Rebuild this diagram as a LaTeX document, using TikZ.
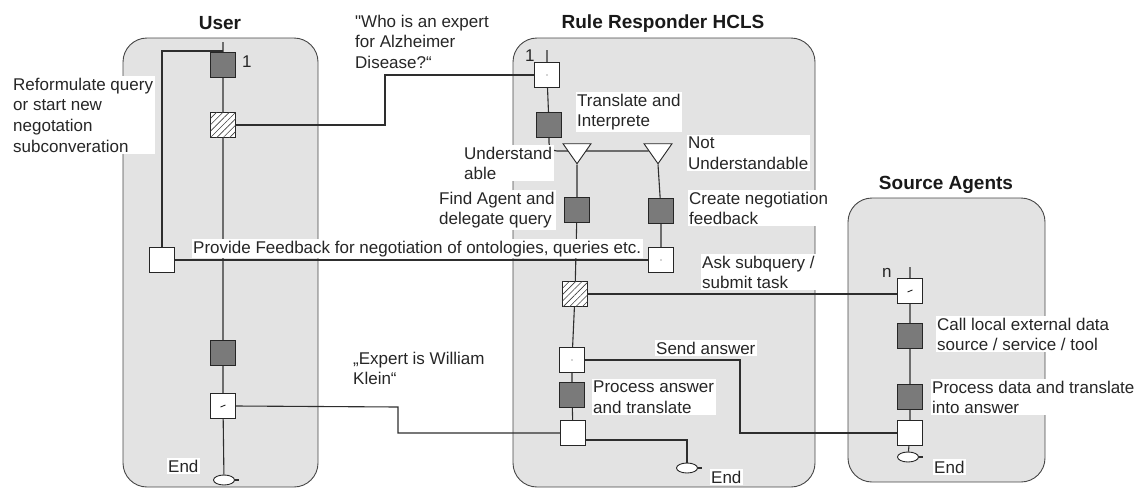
\documentclass[tikz,border=0pt]{standalone}
\usepackage{fontspec}
\setmainfont{Liberation Sans}
\usetikzlibrary{shapes.geometric,patterns.meta}

\pgfdeclarelayer{lanes}
\pgfdeclarelayer{wires}
\pgfsetlayers{lanes,wires,main}

\newcommand{\straightquote}{\XeTeXglyph\XeTeXcharglyph"22\relax}

\tikzset{
  lane/.style={draw=black!72, fill=black!11, rounded corners=24pt, line width=0.9pt},
  title/.style={font=\fontsize{19}{22}\selectfont\bfseries, text=black!90, anchor=base},
  txt/.style={font=\fontsize{17}{20.7}\selectfont, text=black!85, align=left,
    anchor=north west, fill=white, inner sep=1.5pt},
  num/.style={font=\fontsize{17}{20.7}\selectfont, text=black!85, anchor=base west, inner sep=0pt},
  task/.style={draw=black!85, fill=black!52, minimum size=25pt, inner sep=0pt, line width=0.9pt},
  event/.style={draw=black!85, fill=white, minimum size=25pt, inner sep=0pt, line width=0.9pt},
  msg/.style={event, postaction={pattern={Lines[angle=45,distance=4.5pt,line width=0.6pt]},
    pattern color=black!75}},
  dotmark/.style={path picture={\fill[black!70] (path picture bounding box.center) circle (0.6pt);}},
  tick/.style={path picture={\draw[black!85, line width=0.9pt]
    ([xshift=-2.5pt,yshift=-1pt]path picture bounding box.center) --
    ([xshift=2.5pt,yshift=1pt]path picture bounding box.center);}},
  gate/.style={isosceles triangle, isosceles triangle apex angle=70, shape border rotate=-90,
    isosceles triangle stretches, minimum width=28pt, minimum height=20pt,
    draw=black!85, fill=white, inner sep=0pt, line width=0.9pt},
  endev/.style={ellipse, draw=black!85, fill=white, minimum width=21pt, minimum height=10pt,
    inner sep=0pt, line width=0.9pt},
  wire/.style={draw=black!82, line width=1.1pt}
}

\begin{document}
\begin{tikzpicture}[x=1pt,y=-1pt]
\useasboundingbox (0,0) rectangle (1135,488);

% lanes
\begin{pgfonlayer}{lanes}
\draw[lane] (123,38) rectangle (318,487);
\draw[lane] (513,38) rectangle (815,487);
\draw[lane] (848,198) rectangle (1045,482);
\end{pgfonlayer}

\node[title] (tUser) at (220,29) {User};
\node[title] (tRule) at (663,28) {Rule Responder HCLS};
\node[title] (tSrc) at (946,189) {Source Agents};

% user
\coordinate (uTop) at (223,42);
\coordinate (uJoin) at (223,51);
\node[task] (u1) at (223,65) {};
\node[msg] (uAsk) at (223,125) {};
\node[event] (uFb) at (162,260) {};
\node[task] (uTask) at (223,353) {};
\node[event,tick] (uRcv) at (223,406) {};
\node[endev] (uEnd) at (224,480) {};

% rule responder
\coordinate (rTop) at (547,50);
\node[event,dotmark] (rStart) at (547,75) {};
\node[task] (rTr) at (549,125) {};
\node[gate] (gYes) at (577,151) {};
\node[gate] (gNo) at (658,151) {};
\node[task] (rFind) at (577,210) {};
\node[task] (rNeg) at (661,211) {};
\node[event,dotmark] (rFb) at (661,260) {};
\node[msg] (rAsk) at (575,294) {};
\node[event,dotmark] (rAns) at (572,360) {};
\node[task] (rProc) at (572,395) {};
\node[event] (rOut) at (573,433) {};
\node[endev] (rEnd) at (687,468) {};

% source agents
\coordinate (sTop) at (910,267);
\node[event,tick] (sIn) at (910,291) {};
\node[task] (sCall) at (910,336) {};
\node[task] (sProc) at (910,397) {};
\node[event] (sOut) at (910,433) {};
\node[endev] (sEnd) at (908,457) {};

\coordinate (qBend) at (385,75);
\coordinate (aBend) at (740,433);
\coordinate (kBend) at (398,407);

\begin{pgfonlayer}{wires}
\draw[wire] (uTop) -- (u1) -- (uAsk) -- (uTask) -- (uRcv) -- (uEnd);
\draw[wire] (uFb) |- (uJoin);
\draw[wire] (uFb) -- (rFb);
\draw[wire] (uAsk.east) -| (qBend) -- (rStart.west);
\draw[wire] (rTop) -- (rStart) -- (rTr);
\draw[wire, rounded corners=8pt] (rTr.south) |- (gNo.west);
\draw[wire] (gYes.apex) -- (rFind) -- (rAsk) -- (rAns) -- (rProc) -- (rOut);
\draw[wire] (gNo.apex) -- (rNeg) -- (rFb);
\draw[wire] (rAsk.east) -- (sIn.west |- rAsk.east);
\draw[wire] (rAns.east) -| (aBend) -- (sOut.west);
\draw[wire] (rOut.west) -| (kBend) -- (uRcv.east);
\draw[wire] ([yshift=-7pt]rOut.east) -| (rEnd.north);
\draw[wire] (sTop) -- (sIn) -- (sCall) -- (sProc) -- (sOut) -- (sEnd);
\draw[wire] (uEnd.east) -- ++(4,0);
\draw[wire] (rEnd.east) -- ++(4,0);
\draw[wire] (sEnd.east) -- ++(4,0);
\end{pgfonlayer}

% labels
\node[num] (nU) at (242,67) {1};
\node[num] (nR) at (525,61) {1};
\node[num] (nS) at (882,277) {n};
\node[txt] (lRef) at (11.5,76) {Reformulate query\\or start new\\negotation\\subconveration};
\node[txt] (lWho) at (353.5,13) {\straightquote Who is an expert\\for Alzheimer\\Disease?“};
\node[txt] (lTr) at (575.5,92) {Translate and\\Interprete};
\node[txt] (lYes) at (462.5,145) {Understand\\able};
\node[txt] (lNo) at (686.5,135) {Not\\Understandable};
\node[txt] (lFind) at (437.5,190) {Find Agent and\\delegate query};
\node[txt] (lNeg) at (687.5,190) {Create negotiation\\feedback};
\node[txt] (lFb) at (191.5,239) {Provide Feedback for negotiation of ontologies, queries etc.};
\node[txt] (lAsk) at (700.5,254) {Ask subquery /\\submit task};
\node[txt] (lSend) at (654.5,340) {Send answer};
\node[txt] (lExp) at (351.5,350) {„Expert is William\\Klein“};
\node[txt] (lProc) at (591.5,379) {Process answer\\and translate};
\node[txt] (lCall) at (935.5,316) {Call local external data\\source / service / tool};
\node[txt] (lData) at (930.5,379) {Process data and translate\\into answer};
\node[txt] (eU) at (166.5,458) {End};
\node[txt] (eR) at (709.5,469) {End};
\node[txt] (eS) at (932.5,459) {End};
\end{tikzpicture}
\end{document}
